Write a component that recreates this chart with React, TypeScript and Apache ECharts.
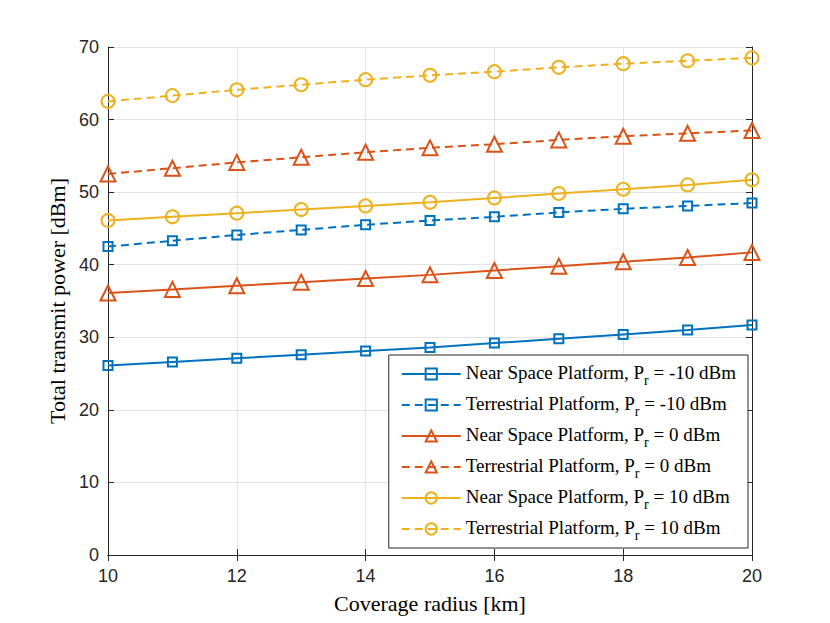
import React, { useEffect, useRef } from "react";
import * as echarts from "echarts";

const radiusKm = [10, 11, 12, 13, 14, 15, 16, 17, 18, 19, 20];

const nearSpaceM10 = [26.1, 26.6, 27.1, 27.6, 28.1, 28.6, 29.2, 29.8, 30.4, 31.0, 31.7];
const terrestrialM10 = [42.5, 43.3, 44.1, 44.8, 45.5, 46.1, 46.6, 47.2, 47.7, 48.1, 48.5];
const nearSpace0 = [36.1, 36.6, 37.1, 37.6, 38.1, 38.6, 39.2, 39.8, 40.4, 41.0, 41.7];
const terrestrial0 = [52.5, 53.3, 54.1, 54.8, 55.5, 56.1, 56.6, 57.2, 57.7, 58.1, 58.5];
const nearSpace10 = [46.1, 46.6, 47.1, 47.6, 48.1, 48.6, 49.2, 49.8, 50.4, 51.0, 51.7];
const terrestrial10 = [62.5, 63.3, 64.1, 64.8, 65.5, 66.1, 66.6, 67.2, 67.7, 68.1, 68.5];

const seriesNames = [
  "Near Space Platform, P_r = -10 dBm",
  "Terrestrial Platform, P_r = -10 dBm",
  "Near Space Platform, P_r = 0 dBm",
  "Terrestrial Platform, P_r = 0 dBm",
  "Near Space Platform, P_r = 10 dBm",
  "Terrestrial Platform, P_r = 10 dBm",
];

const BLUE = "#0072BD";
const RED = "#D95319";
const YELLOW = "#EDB120";
const AXIS = "#262626";
const SERIF = "'Liberation Serif', 'Times New Roman', serif";
const SANS = "'Liberation Sans', Arial, Helvetica, sans-serif";

export default function App() {
  const ref = useRef<HTMLDivElement>(null);

  useEffect(() => {
    document.body.style.margin = "0";
    if (!ref.current) return;
    const chart = echarts.init(ref.current, undefined, { renderer: "svg" });

    const mk = (
      name: string,
      values: number[],
      color: string,
      dashed: boolean,
      symbol: string,
      size: number
    ) => ({
      name,
      type: "line",
      data: radiusKm.map((x, i) => [x, values[i]]),
      symbol,
      symbolSize: size,
      showSymbol: true,
      lineStyle: { color, width: 2, type: dashed ? [8, 5] : "solid" },
      itemStyle: { color: "rgba(255,255,255,0)", borderColor: color, borderWidth: 2 },
      emphasis: { disabled: true },
      z: 3,
    });

    const series = [
      mk(seriesNames[0], nearSpaceM10, BLUE, false, "rect", 9),
      mk(seriesNames[1], terrestrialM10, BLUE, true, "rect", 9),
      mk(seriesNames[2], nearSpace0, RED, false, "triangle", 15),
      mk(seriesNames[3], terrestrial0, RED, true, "triangle", 15),
      mk(seriesNames[4], nearSpace10, YELLOW, false, "circle", 13),
      mk(seriesNames[5], terrestrial10, YELLOW, true, "circle", 13),
    ];

    const axisLine = { show: true, lineStyle: { color: AXIS, width: 1 } };
    const axisTick = { show: true, inside: true, length: 6, lineStyle: { color: AXIS } };

    chart.setOption({
      animation: false,
      backgroundColor: "#fff",
      grid: { left: 108, right: 78, top: 47, bottom: 68, containLabel: false },
      xAxis: [
        {
          type: "value",
          min: 10,
          max: 20,
          interval: 2,
          name: "Coverage radius [km]",
          nameLocation: "middle",
          nameGap: 37,
          nameTextStyle: { fontFamily: SERIF, fontSize: 22, color: "#000" },
          axisLine,
          axisTick,
          axisLabel: { fontFamily: SANS, fontSize: 18, color: AXIS, margin: 12 },
          splitLine: { show: true, lineStyle: { color: "#e3e3e3", width: 1 } },
        },
        {
          type: "value",
          position: "top",
          min: 10,
          max: 20,
          interval: 2,
          axisLine,
          axisTick,
          axisLabel: { show: false },
          splitLine: { show: false },
        },
      ],
      yAxis: [
        {
          type: "value",
          min: 0,
          max: 70,
          interval: 10,
          name: "Total transmit power [dBm]",
          nameLocation: "middle",
          nameGap: 36,
          nameTextStyle: { fontFamily: SERIF, fontSize: 22, color: "#000" },
          axisLine,
          axisTick,
          axisLabel: { fontFamily: SANS, fontSize: 18, color: AXIS, margin: 9 },
          splitLine: { show: true, lineStyle: { color: "#e3e3e3", width: 1 } },
        },
        {
          type: "value",
          position: "right",
          min: 0,
          max: 70,
          interval: 10,
          axisLine,
          axisTick,
          axisLabel: { show: false },
          splitLine: { show: false },
        },
      ],
      legend: {
        orient: "vertical",
        right: 82,
        top: 355,
        padding: [8, 12, 6, 12],
        itemGap: 7,
        itemWidth: 59,
        itemHeight: 14,
        borderColor: AXIS,
        borderWidth: 1,
        backgroundColor: "#fff",
        data: seriesNames,
        formatter: (name: string) => {
          const [a, b] = name.split("P_r");
          return `{n|${a}P}{sub|r}{n|${b}}`;
        },
        textStyle: {
          fontFamily: SERIF,
          fontSize: 19,
          color: "#000",
          rich: {
            n: { fontFamily: SERIF, fontSize: 19, color: "#000", verticalAlign: "top", lineHeight: 22 },
            sub: {
              fontFamily: SERIF,
              fontSize: 14,
              color: "#000",
              verticalAlign: "top",
              lineHeight: 22,
              padding: [10, 0, 0, 0],
            },
          },
        },
      },
      series,
    });

    return () => chart.dispose();
  }, []);

  return <div ref={ref} style={{ width: 830, height: 623 }} />;
}
